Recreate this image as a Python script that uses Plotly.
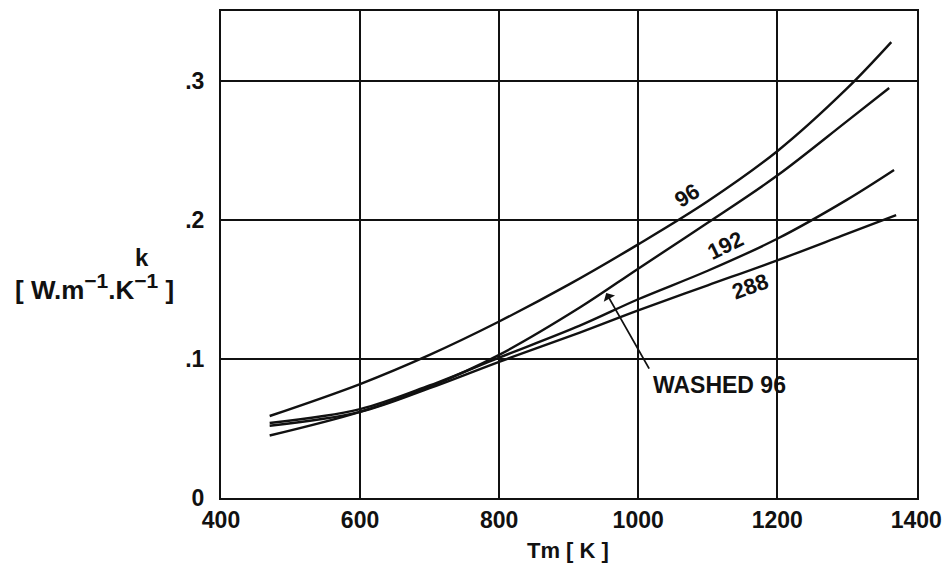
import plotly.graph_objects as go

# Mean temperature Tm [K] and thermal conductivity k [W/(m.K)] for each sample
t_96 = [470, 600, 700, 800, 900, 1000, 1100, 1200, 1300, 1364]
k_96 = [0.059, 0.082, 0.103, 0.127, 0.1535, 0.1825, 0.2135, 0.2495, 0.2945, 0.328]

t_washed = [470, 600, 700, 800, 916, 1000, 1100, 1200, 1300, 1361]
k_washed = [0.045, 0.062, 0.080, 0.103, 0.137, 0.165, 0.198, 0.232, 0.271, 0.295]

t_192 = [470, 600, 700, 800, 916, 1000, 1100, 1200, 1300, 1368]
k_192 = [0.054, 0.064, 0.081, 0.101, 0.124, 0.143, 0.1635, 0.1865, 0.2145, 0.236]

t_288 = [470, 600, 700, 800, 916, 1000, 1100, 1200, 1300, 1371]
k_288 = [0.052, 0.062, 0.079, 0.098, 0.119, 0.135, 0.153, 0.171, 0.190, 0.2035]

x_ticks = [400, 600, 800, 1000, 1200, 1400]
y_ticks = [0, 0.1, 0.2, 0.3]
y_tick_text = ["0", ".1", ".2", ".3"]

FONT = "Liberation Sans, Arial, sans-serif"
INK = "#111111"


def bold(size):
    return dict(family=FONT, size=size, color=INK, weight="bold")


fig = go.Figure()
for t, k in [(t_96, k_96), (t_washed, k_washed), (t_192, k_192), (t_288, k_288)]:
    fig.add_trace(go.Scatter(
        x=t, y=k, mode="lines", line=dict(color=INK, width=2.4, shape="spline", smoothing=1.0),
        showlegend=False, hoverinfo="skip",
    ))

# Curve labels
for txt, x, y, ang in [("96", 1070, 0.2175, -32), ("192", 1125, 0.182, -26), ("288", 1161, 0.152, -20)]:
    fig.add_annotation(x=x, y=y, text=txt, showarrow=False, textangle=ang, font=bold(22))

# Pointer for the washed sample
fig.add_annotation(x=954, y=0.1475, ax=1017, ay=0.092, axref="x", ayref="y",
                   text="", showarrow=True, arrowhead=1, arrowsize=1.2, arrowwidth=1.8,
                   arrowcolor=INK)
fig.add_annotation(x=1018, y=0.081, text="WASHED 96", showarrow=False, xanchor="left",
                   yanchor="middle", font=bold(23))

# Axis titles
sup = '<sup><span style="font-size:21px">−1</span></sup>'
fig.add_annotation(xref="paper", yref="paper", x=-0.1135, y=0.493, text="k", showarrow=False,
                   xanchor="center", yanchor="middle", font=bold(24))
fig.add_annotation(xref="paper", yref="paper", x=-0.182, y=0.433,
                   text="[ W.m" + sup + ".K" + sup + " ]", showarrow=False,
                   xanchor="center", yanchor="middle", font=bold(26))
fig.add_annotation(xref="paper", yref="paper", x=0.4986, y=-0.107, text="Tm [ K ]",
                   showarrow=False, xanchor="center", yanchor="middle", font=bold(22))

fig.update_xaxes(range=[400, 1401], tickvals=x_ticks, showgrid=True, gridcolor=INK, gridwidth=1.8,
                 showline=True, linecolor=INK, linewidth=2, mirror=True, zeroline=False,
                 ticks="", automargin=False, tickfont=bold(23))
fig.update_yaxes(range=[0, 0.3504], tickvals=y_ticks, ticktext=y_tick_text, showgrid=True,
                 gridcolor=INK, gridwidth=1.8, showline=True, linecolor=INK, linewidth=2,
                 mirror=True, zeroline=False, ticks="", ticklabelstandoff=10, automargin=False,
                 tickfont=bold(23))

fig.update_layout(width=943, height=563, margin=dict(l=221, r=26, t=11, b=65),
                  paper_bgcolor="white", plot_bgcolor="white")

fig.write_html("out.html")
